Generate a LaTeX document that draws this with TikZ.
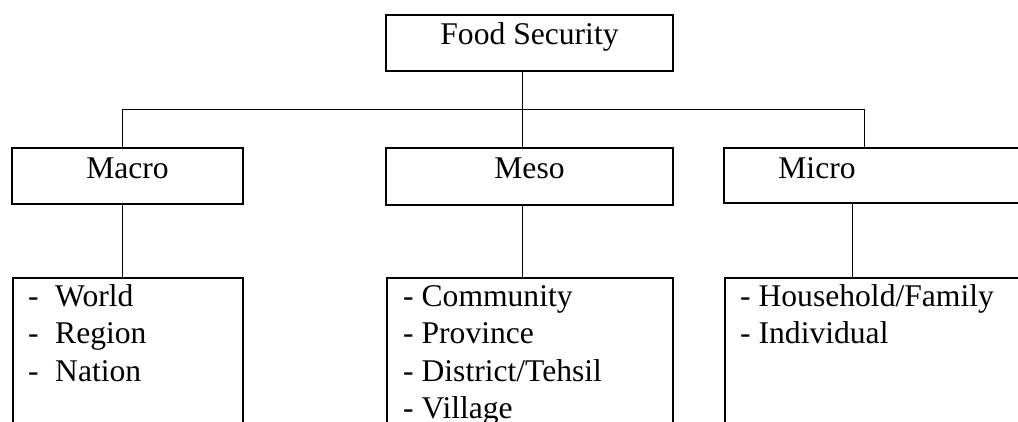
\documentclass[tikz,border=0pt]{standalone}
\usepackage{fontspec}
\setmainfont{Liberation Serif}
\newcommand\listcol[1]{\begin{tabular}[t]{@{}l@{}}#1\end{tabular}}
\newcommand\dashitem{\makebox[27pt][l]{-}}
\begin{document}
\begin{tikzpicture}[x=1pt,y=-1pt,
  box/.style={draw, line width=1.3pt, inner sep=0pt},
  conn/.style={line width=0.9pt},
  lbl/.style={anchor=base, inner sep=0pt, font=\fontsize{31.6}{37.5}\selectfont},
  lst/.style={anchor=base west, inner sep=0pt, font=\fontsize{31.6}{37.5}\selectfont}]
\useasboundingbox (0,0) rectangle (1018,421);
\clip (0,0) rectangle (1018,421);
% boxes
\node[box, minimum width=287pt, minimum height=56pt] (fs) at (529.5,43) {};
\node[box, minimum width=231pt, minimum height=56pt] (macro) at (127.5,176) {};
\node[box, minimum width=287pt, minimum height=57pt] (meso) at (529.5,176.5) {};
\node[box, minimum width=316pt, minimum height=55pt] (micro) at (882,175.5) {};
\node[box, minimum width=230pt, minimum height=182pt] (macrolist) at (128,369) {};
\node[box, minimum width=286pt, minimum height=182pt] (mesolist) at (530,369) {};
\node[box, minimum width=315pt, minimum height=182pt] (microlist) at (882.5,369) {};
% titles
\node[lbl] (tfs) at (529.5,44) {Food Security};
\node[lbl] (tmacro) at (127.5,178) {Macro};
\node[lbl] (tmeso) at (529.5,178) {Meso};
\node[lbl] (tmicro) at (817,178) {Micro};
% lists
\node[lst] (lmacro) at (28,306) {\listcol{\dashitem World\\ \dashitem Region\\ \dashitem Nation}};
\node[lst] (lmeso) at (403,306) {\listcol{- Community\\ - Province\\ - District/Tehsil\\ - Village}};
\node[lst] (lmicro) at (740,306) {\listcol{- Household/Family\\ - Individual}};
% connectors
\coordinate (jl) at (122,109);
\coordinate (jm) at (522,109);
\coordinate (jr) at (864,109);
\coordinate (kr) at (852,240);
\draw[conn] (jm |- fs.south) -- (jm |- meso.north);
\draw[conn] (jl |- macro.north) -- (jl) -- (jr) -- (jr |- micro.north);
\draw[conn] (jl |- macro.south) -- (jl |- macrolist.north);
\draw[conn] (jm |- meso.south) -- (jm |- mesolist.north);
\draw[conn] (kr |- micro.south) -- (kr |- microlist.north);
\end{tikzpicture}
\end{document}
